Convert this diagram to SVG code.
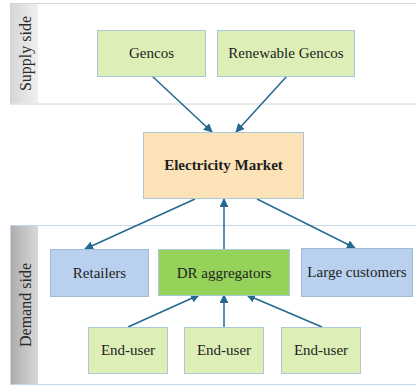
<svg xmlns="http://www.w3.org/2000/svg" width="416" height="386" viewBox="0 0 416 386">
<defs>
<linearGradient id="gs" x1="0" y1="0" x2="1" y2="0"><stop offset="0" stop-color="#d6d6d6"/><stop offset="1" stop-color="#f0f0f0"/></linearGradient>
<linearGradient id="gd" x1="0" y1="0" x2="1" y2="0"><stop offset="0" stop-color="#adadad"/><stop offset="1" stop-color="#d9d9d9"/></linearGradient>
<marker id="ah" viewBox="0 0 10 10" refX="9" refY="5" markerWidth="9" markerHeight="9" markerUnits="userSpaceOnUse" orient="auto"><path d="M0,0 L10,5 L0,10 z" fill="#23688f"/></marker>
</defs>
<style>
.lbl{font-size:15px;fill:#1e1e1e;text-anchor:middle}
.bold{font-weight:bold}
.side{font-size:16px;fill:#2a2a2a;text-anchor:middle}
.lg{fill:#ddefb6;stroke:#a9c9d9;stroke-width:1}
.dg{fill:#95d25a;stroke:#a9c9d9;stroke-width:1}
.bl{fill:#b9d1ee;stroke:#9dbcd8;stroke-width:1}
.em{fill:#fbe3b7;stroke:#a9c9d9;stroke-width:1}
.c{stroke:#23688f;stroke-width:1.5;fill:none;marker-end:url(#ah)}
</style>
<g font-family="'Liberation Serif', 'Times New Roman', serif">
<g id="supply-panel">
<rect x="10.5" y="3.5" width="410" height="100.5" fill="#ffffff" stroke="#d4d4d4"/>
<rect x="11" y="4" width="27" height="99.5" fill="url(#gs)"/>
<text class="side" transform="translate(31,53.5) rotate(-90)">Supply side</text>
</g>
<g id="demand-panel">
<rect x="10.5" y="225.5" width="410" height="159" fill="#ffffff" stroke="#c5d6e6"/>
<rect x="11" y="226" width="27" height="158" fill="url(#gd)"/>
<text class="side" transform="translate(31,305) rotate(-90)">Demand side</text>
</g>
<g id="connectors">
<line class="c" x1="152" y1="76" x2="212" y2="132"/>
<line class="c" x1="287" y1="76" x2="236" y2="132"/>
<line class="c" x1="195" y1="199" x2="85" y2="249"/>
<line class="c" x1="224" y1="249" x2="224" y2="199"/>
<line class="c" x1="257" y1="199" x2="355" y2="248"/>
<line class="c" x1="128" y1="327" x2="199" y2="295"/>
<line class="c" x1="224" y1="327" x2="224" y2="295"/>
<line class="c" x1="322" y1="327" x2="247" y2="295"/>
</g>
<g id="gencos"><rect class="lg" x="97.5" y="30.5" width="108" height="46"/><text class="lbl" x="151.5" y="58">Gencos</text></g>
<g id="renewable-gencos"><rect class="lg" x="217.5" y="30.5" width="137" height="46"/><text class="lbl" x="286" y="58">Renewable Gencos</text></g>
<g id="electricity-market"><rect class="em" x="143.5" y="132.5" width="160" height="66"/><text class="lbl bold" x="223.5" y="170">Electricity Market</text></g>
<g id="retailers"><rect class="bl" x="50.5" y="249.5" width="98" height="47"/><text class="lbl" x="99.5" y="278">Retailers</text></g>
<g id="dr-aggregators"><rect class="dg" x="158.5" y="249.5" width="131" height="46"/><text class="lbl" x="224" y="278">DR aggregators</text></g>
<g id="large-customers"><rect class="bl" x="301.5" y="248.5" width="111" height="48"/><text class="lbl" x="357" y="277">Large customers</text></g>
<g id="end-user-1"><rect class="lg" x="88.5" y="327.5" width="79" height="46"/><text class="lbl" x="128" y="355">End-user</text></g>
<g id="end-user-2"><rect class="lg" x="184.5" y="327.5" width="79" height="46"/><text class="lbl" x="224" y="355">End-user</text></g>
<g id="end-user-3"><rect class="lg" x="281.5" y="327.5" width="79" height="46"/><text class="lbl" x="321" y="355">End-user</text></g>
</g>
</svg>
